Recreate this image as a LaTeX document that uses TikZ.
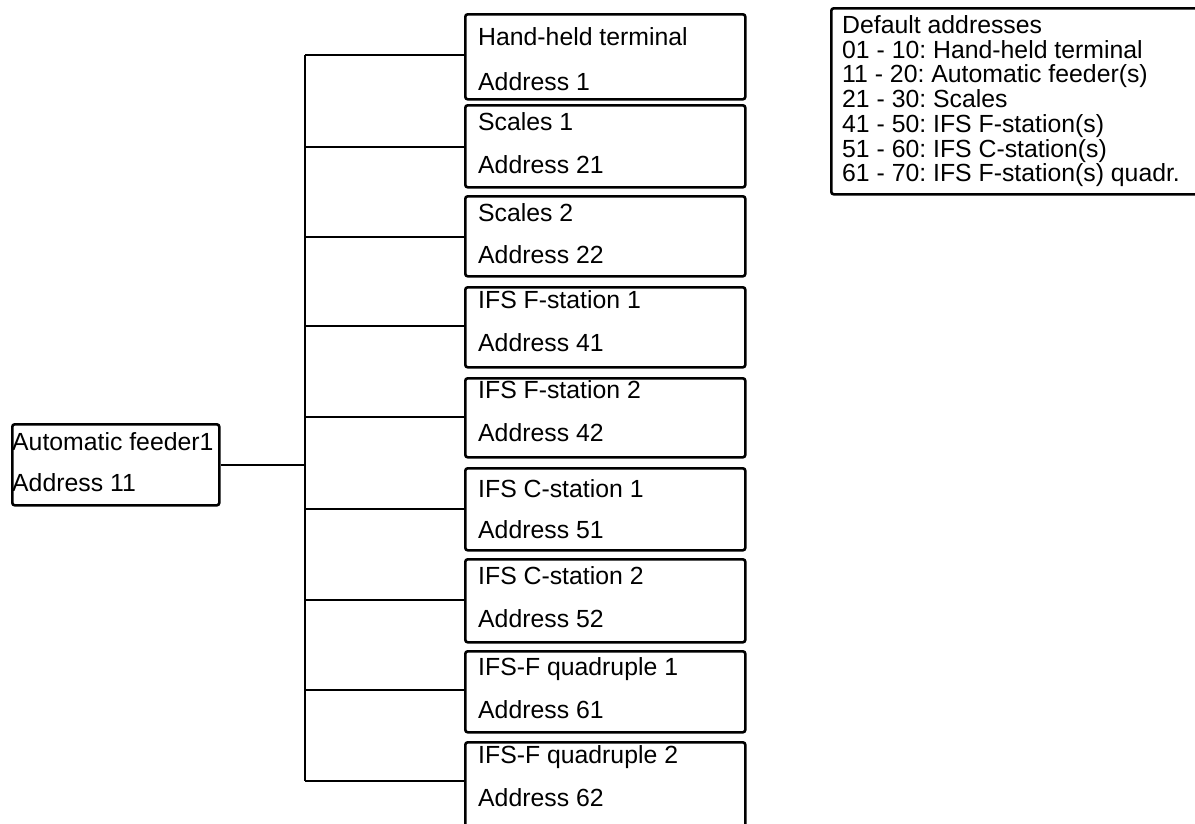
\documentclass[tikz,border=0pt]{standalone}
\usepackage{fontspec}
\setmainfont{Liberation Sans}
\frenchspacing
\begin{document}
\begin{tikzpicture}[x=1pt,y=-1pt,
  box/.style={draw, line width=2.6pt, rounded corners=2.5pt, inner sep=0pt, anchor=north west},
  wire/.style={line width=2pt},
  lbl/.style={anchor=base west, inner sep=0pt, font=\frenchspacing\fontsize{24.8}{24.8}\selectfont}]
\useasboundingbox (0,0) rectangle (1195,823);
\clip (0,0) rectangle (1195,823);
\fill[white] (0,0) rectangle (1195,823);

% right-hand boxes: name / top / height / line1 centre / line2 centre / texts
\foreach \n/\t/\h/\a/\b/\ta/\tb in {
  1/13/85/24/69/Hand-held terminal/Address 1,
  2/104/82/18/61/Scales 1/Address 21,
  3/195/80/18/60/Scales 2/Address 22,
  4/286/80/14/57/IFS F-station 1/Address 41,
  5/377/79/13/56/IFS F-station 2/Address 42,
  6/467/82/22/63/IFS C-station 1/Address 51,
  7/558/83/18/61/IFS C-station 2/Address 52,
  8/650/81/17/60/IFS-F quadruple 1/Address 61,
  9/741/110/14/57/IFS-F quadruple 2/Address 62}{
  \node[box, minimum width=280pt, minimum height=\h pt] (b\n) at (464,\t) {};
  \node[lbl] (b\n t1) at (478,\t+\a+8.5) {\ta};
  \node[lbl] (b\n t2) at (478,\t+\b+8.5) {\tb};
}

% feeder box
\node[box, minimum width=207pt, minimum height=81pt] (f) at (11,423) {};
\node[lbl] (ft1) at (12,450.5) {Automatic feeder1};
\node[lbl] (ft2) at (12,491.5) {Address 11};

% bus junctions
\foreach \n/\y in {1/55,2/147,3/237,4/326,5/417,6/509,7/600,8/690,9/781}{
  \coordinate (j\n) at (305,\y);
  \draw[wire] (j\n) -- (j\n -| b\n.west);
}
\draw[wire] (j1) -- (j9);
\draw[wire] (f.east) -- (f.east -| j1);

% legend
\node[box, minimum width=390pt, minimum height=186pt] (leg) at (830,7) {};
\foreach \k/\txt in {0/Default addresses,
  1/01 - 10: Hand-held terminal,
  2/11 - 20: Automatic feeder(s),
  3/21 - 30: Scales,
  4/41 - 50: IFS F-station(s),
  5/51 - 60: IFS C-station(s),
  6/61 - 70: IFS F-station(s) quadr.}{
  \node[lbl] (leg\k) at (842,33.5+24.7*\k) {\txt};
}
\end{tikzpicture}
\end{document}
